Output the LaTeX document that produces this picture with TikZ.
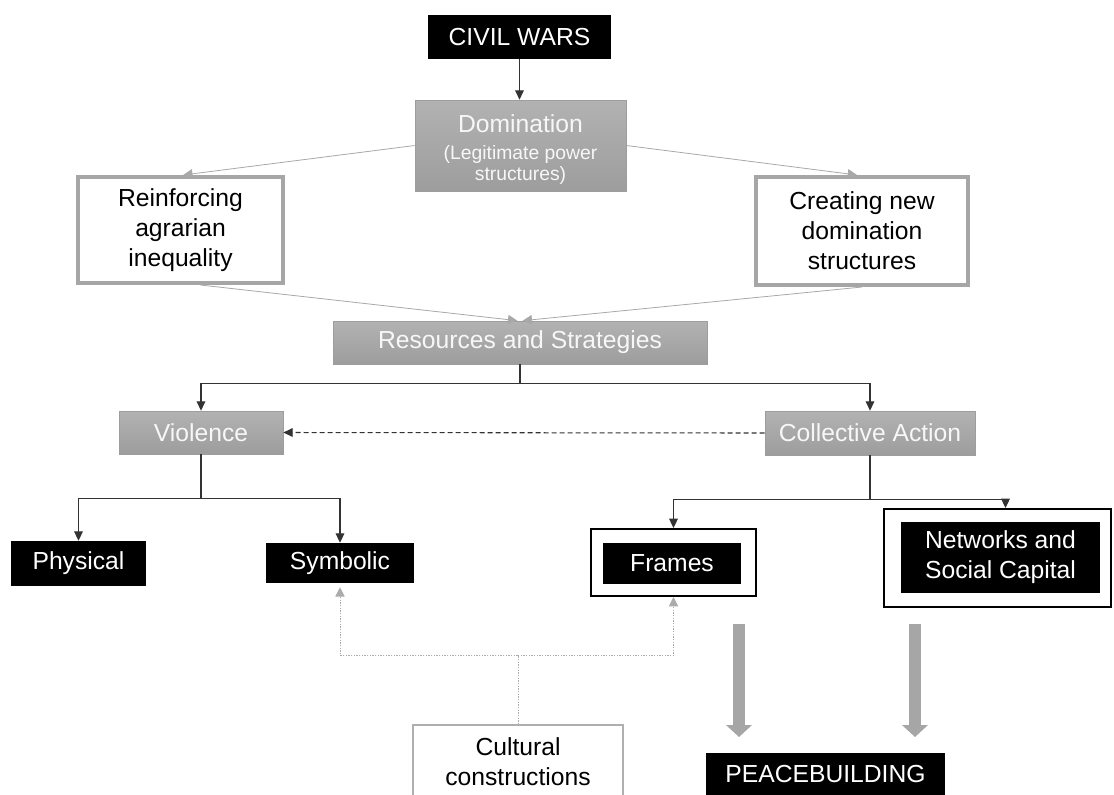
\documentclass[tikz,border=0pt]{standalone}
\usepackage{fontspec}
\setmainfont{Liberation Sans}
\usetikzlibrary{arrows.meta}
\definecolor{boxgray}{HTML}{A6A6A6}
\definecolor{boxgraytop}{HTML}{B2B2B2}
\definecolor{boxgraybot}{HTML}{9D9D9D}
\definecolor{linegray}{HTML}{A8A8A8}
\definecolor{dotgray}{HTML}{ABABAB}
\definecolor{paletext}{HTML}{F7F7F7}

\begin{document}
\begin{tikzpicture}[x=0.75pt,y=-0.75pt,
  every node/.style={font=\fontsize{18.5pt}{22.5pt}\selectfont, inner sep=0pt, align=center},
  size/.style 2 args={minimum width=#1*0.75pt, minimum height=#2*0.75pt},
  blackbox/.style={fill=black, text=white},
  graybox/.style={top color=boxgraytop, bottom color=boxgraybot, draw=boxgraybot, line width=0.5pt, text=paletext},
  thickgray/.style={draw=boxgray, line width=3pt, fill=white},
  framebox/.style={draw=black, line width=1.5pt, fill=white},
  culturebox/.style={draw=boxgray!90, line width=1pt, fill=white},
  link/.style={draw=black!80, line width=0.8pt, -{Triangle[length=7pt,width=6.5pt]}},
  graylink/.style={draw=linegray, line width=0.6pt, -{Triangle[length=7pt,width=7pt]}},
  dashlink/.style={link, dash pattern=on 3.75pt off 2.25pt},
  dotlink/.style={draw=dotgray, line width=0.75pt, dash pattern=on 1pt off 1pt, -{Triangle[length=7pt,width=7pt]}},
  bigarrow/.style={draw=boxgray, line width=9pt, -{Triangle[length=9pt,width=19pt]}},
]
\useasboundingbox (0,0) rectangle (1114,794);
\clip (0,0) rectangle (1114,794);

% --- boxes ---
\node[blackbox, size={183}{44}] (civil) at (519.5,37) {CIVIL WARS};
\node[graybox, size={211}{91}] (dom) at (520.5,145.5)
  {\rule{0pt}{20pt}Domination\\[-2.5pt]{\fontsize{14.5pt}{16pt}\selectfont (Legitimate power}\\[-6.5pt]{\fontsize{14.5pt}{16pt}\selectfont structures)}};
\node[thickgray, size={205}{106}] (reinf) at (180.5,230) {Reinforcing\\agrarian\\inequality};
\node[thickgray, size={212}{108}] (create) at (862,231) {Creating new\\domination\\structures};
\node[graybox, size={374}{43}] (res) at (520,342.5) {Resources and Strategies};
\node[graybox, size={164}{43}] (vio) at (201,432.5) {Violence};
\node[graybox, size={210}{44}] (coll) at (870,433) {Collective Action};
\node[blackbox, size={135}{45}] (phys) at (78.5,563.5) {Physical};
\node[blackbox, size={148}{40}] (symb) at (340,563) {Symbolic};
\node[framebox, size={165}{67}] (frout) at (673.5,562.5) {};
\node[blackbox, size={138}{41}] (frames) at (672,563.5) {Frames};
\node[framebox, size={227}{98}] (netout) at (997.5,558) {};
\node[blackbox, size={199}{71}] (net) at (1000.5,557.5) {Networks and\\Social Capital};
\node[culturebox, size={210}{74}] (cult) at (518,762) {Cultural\\constructions};
\node[blackbox, size={239}{42}] (peace) at (825.5,774) {PEACEBUILDING};

% --- connectors ---
\draw[link] (civil.south) -- (civil.south |- dom.north);
\draw[graylink] (dom.west) -- ([xshift=2pt]reinf.north);
\draw[graylink] (dom.east) -- ([xshift=-3.75pt]create.north);
\draw[graylink] ([xshift=15pt]reinf.south) -- ([xshift=-2pt]res.north);
\draw[graylink] (create.south) -- ([xshift=2pt]res.north);

\draw[link] (res.south) -- ++(0,19) coordinate (rsplit) -| (vio.north);
\draw[link] (rsplit) -| (coll.north);
\draw[dashlink] (coll.west) -- (vio.east);

\draw[link] (vio.south) -- ++(0,44) coordinate (vsplit) -| (phys.north);
\draw[link] (vsplit) -| (symb.north);
\draw[link] (coll.south) -- ++(0,44) coordinate (csplit) -| (frout.north);
\draw[link] (csplit) -| ([xshift=6pt]netout.north);

\draw[dotlink] (cult.north) -- ++(0,-69) coordinate (dsplit) -| ([yshift=-3pt]symb.south);
\draw[dotlink] (dsplit) -| (frout.south);

% --- broad arrows towards peacebuilding ---
\coordinate (leftfrom) at (739,624);
\coordinate (leftto) at (739,737);
\coordinate (rightfrom) at (915,624);
\coordinate (rightto) at (915,737);
\draw[bigarrow] (leftfrom) -- (leftto);
\draw[bigarrow] (rightfrom) -- (rightto);
\end{tikzpicture}
\end{document}
